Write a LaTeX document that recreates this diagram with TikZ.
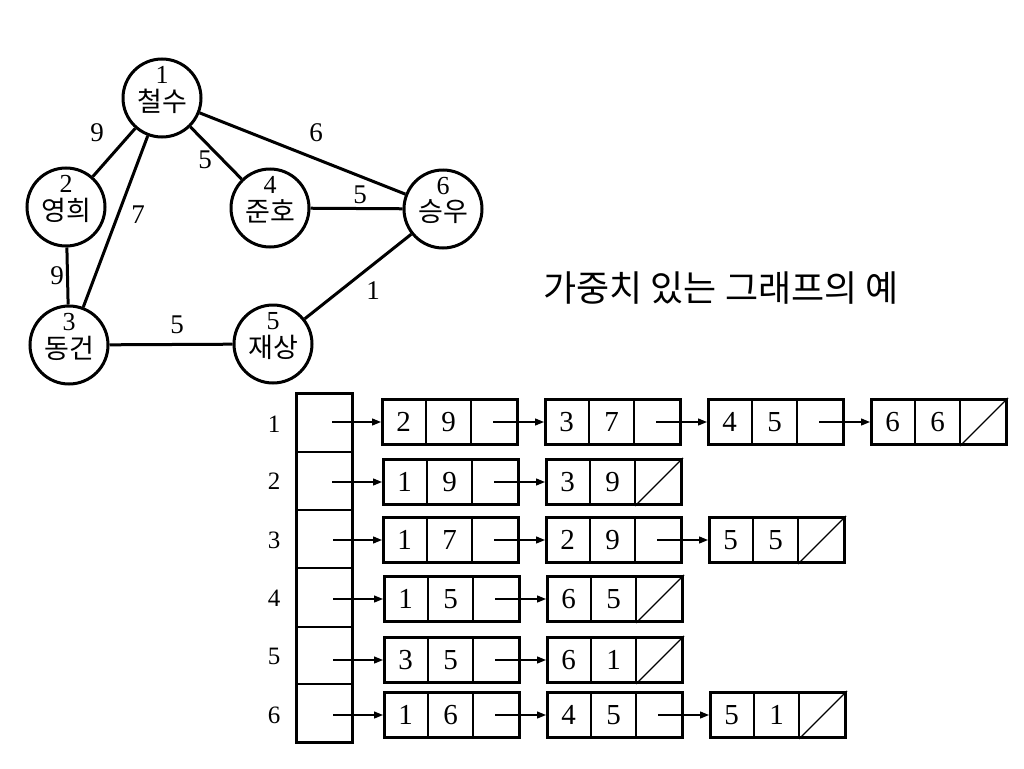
\documentclass[tikz,border=0pt]{standalone}
\usepackage{fontspec}
\setmainfont{Liberation Serif}
\newfontfamily\kr{Noto Sans CJK KR}
\usetikzlibrary{arrows.meta,calc}
\tikzset{
  vert/.style={circle, draw, line width=3pt, minimum size=78pt, inner sep=0pt},
  vname/.style={font=\kr\fontsize{27}{27}\selectfont, inner sep=0pt},
  vnum/.style={font=\fontsize{26}{26}\selectfont, inner sep=0pt},
  wt/.style={font=\fontsize{27}{27}\selectfont, inner sep=0pt},
  gedge/.style={line width=3pt},
  cellbox/.style={draw, line width=3pt, minimum width=135pt, minimum height=45pt, inner sep=0pt, anchor=west},
  divline/.style={line width=1.3pt},
  digit/.style={font=\fontsize{29}{29}\selectfont, inner sep=0pt},
  ptr/.style={line width=1.3pt, -{Triangle[length=9pt,width=7pt]}},
  idx/.style={font=\fontsize{25}{25}\selectfont, inner sep=0pt},
}
\newcommand\lnode[5]{%
  \node[cellbox] (#1) at (#2,#3) {};
  \node[digit] at ($(#1.west)+(22.5,0)$) {#4};
  \node[digit] at ($(#1.west)+(67.5,0)$) {#5};
  \draw[divline] ($(#1.north west)+(45,0)$) -- ($(#1.south west)+(45,0)$);
  \draw[divline] ($(#1.north west)+(90,0)$) -- ($(#1.south west)+(90,0)$);
  \coordinate (#1p) at ($(#1.west)+(112,0)$);
}
\newcommand\nullslash[1]{%
  \draw[divline] ($(#1.south west)+(90,0)$) -- (#1.north east);
}
\begin{document}
\begin{tikzpicture}[x=1pt,y=-1pt]
\useasboundingbox (0,0) rectangle (1024,768);
% graph vertices
\node[vert] (v1) at (162,98) {};
\node[vert] (v2) at (66,207) {};
\node[vert] (v4) at (270,208) {};
\node[vert] (v6) at (443,209) {};
\node[vert] (v3) at (69,345) {};
\node[vert] (v5) at (273,344) {};
\foreach \v/\n/\t in {v1/1/철수, v2/2/영희, v3/3/동건, v4/4/준호, v5/5/재상, v6/6/승우}{
  \node[vnum] (\v n) at ($(\v)+(0,-23)$) {\n};
  \node[vname] (\v t) at ($(\v)+(0,3)$) {\t};
}
% edges
\draw[gedge] (v1) -- (v2);
\draw[gedge] (v1) -- (v4);
\draw[gedge] (v1) -- (v3);
\draw[gedge] (v1) -- (v6);
\draw[gedge] (v4) -- (v6);
\draw[gedge] (v2) -- (v3);
\draw[gedge] (v5) -- (v6);
\draw[gedge] (v3) -- (v5);
% weights
\node[wt] (w12) at (97,133) {9};
\node[wt] (w14) at (205,160) {5};
\node[wt] (w13) at (138,215) {7};
\node[wt] (w16) at (316,133) {6};
\node[wt] (w46) at (360,195) {5};
\node[wt] (w23) at (57,276) {9};
\node[wt] (w56) at (373,291) {1};
\node[wt] (w35) at (177,325) {5};
% title
\node[font=\kr\fontsize{36}{36}\selectfont, inner sep=0pt] (title) at (721,288) {가중치 있는 그래프의 예};
% array
\node[draw, line width=3pt, minimum width=56pt, minimum height=349pt, inner sep=0pt] (arr) at (324,567.5) {};
\foreach \yy in {452,510,568,627,684}{
  \draw[divline] (296,\yy) -- (352,\yy);
}
\foreach \i/\yy in {1/424,2/481,3/540,4/598,5/656,6/715}{
  \node[idx] (i\i) at (274,\yy) {\i};
}
% lists
\lnode{a1}{381}{422}{2}{9}
\lnode{a2}{544}{422}{3}{7}
\lnode{a3}{707}{422}{4}{5}
\lnode{a4}{870}{422}{6}{6}\nullslash{a4}
\lnode{b1}{382}{482}{1}{9}
\lnode{b2}{545}{482}{3}{9}\nullslash{b2}
\lnode{c1}{382}{540}{1}{7}
\lnode{c2}{545}{540}{2}{9}
\lnode{c3}{708}{540}{5}{5}\nullslash{c3}
\lnode{d1}{383}{599}{1}{5}
\lnode{d2}{546}{599}{6}{5}\nullslash{d2}
\lnode{e1}{383}{660}{3}{5}
\lnode{e2}{546}{660}{6}{1}\nullslash{e2}
\lnode{f1}{383}{715}{1}{6}
\lnode{f2}{546}{715}{4}{5}
\lnode{f3}{709}{715}{5}{1}\nullslash{f3}
% pointers from array
\coordinate (s1) at (332,422);
\coordinate (s2) at (332,482);
\coordinate (s3) at (333,540);
\coordinate (s4) at (333,599);
\coordinate (s5) at (333,660);
\coordinate (s6) at (333,715);
\draw[ptr] (s1) -- (a1);
\draw[ptr] (s2) -- (b1);
\draw[ptr] (s3) -- (c1);
\draw[ptr] (s4) -- (d1);
\draw[ptr] (s5) -- (e1);
\draw[ptr] (s6) -- (f1);
% pointers between nodes
\draw[ptr] (a1p) -- (a2);
\draw[ptr] (a2p) -- (a3);
\draw[ptr] (a3p) -- (a4);
\draw[ptr] (b1p) -- (b2);
\draw[ptr] (c1p) -- (c2);
\draw[ptr] (c2p) -- (c3);
\draw[ptr] (d1p) -- (d2);
\draw[ptr] (e1p) -- (e2);
\draw[ptr] (f1p) -- (f2);
\draw[ptr] (f2p) -- (f3);
\end{tikzpicture}
\end{document}
